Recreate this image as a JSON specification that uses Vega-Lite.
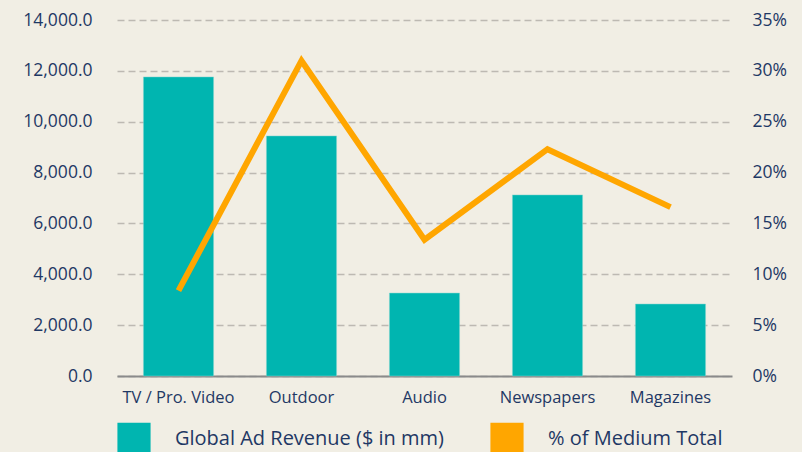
{
  "$schema": "https://vega.github.io/schema/vega-lite/v6.json",
  "width": 615,
  "height": 356,
  "autosize": {"type": "none"},
  "padding": {"left": 117, "top": 20, "right": 70, "bottom": 76},
  "background": "#f1eee4",
  "config": {
    "view": {"stroke": null},
    "font": "Open Sans",
    "axis": {"labelColor": "#1f3864", "labelFont": "Open Sans"}
  },
  "data": {
    "values": [
      {"medium": "TV / Pro. Video", "revenue": 11760, "pct": 0.084},
      {"medium": "Outdoor", "revenue": 9440, "pct": 0.31},
      {"medium": "Audio", "revenue": 3260, "pct": 0.134},
      {"medium": "Newspapers", "revenue": 7120, "pct": 0.223},
      {"medium": "Magazines", "revenue": 2830, "pct": 0.166}
    ]
  },
  "encoding": {
    "x": {
      "field": "medium",
      "type": "nominal",
      "sort": null,
      "scale": {"paddingInner": 0.43, "paddingOuter": 0.215},
      "axis": {
        "title": null,
        "labelAngle": 0,
        "ticks": false,
        "domainColor": "#8a8a8a",
        "domainWidth": 2,
        "labelFontSize": 16.5,
        "labelPadding": 13
      }
    }
  },
  "layer": [
    {
      "mark": {"type": "bar", "color": "#00b5b0", "stroke": "#7fd4cf", "strokeWidth": 0.5},
      "encoding": {
        "y": {
          "field": "revenue",
          "type": "quantitative",
          "scale": {"domain": [0, 14000], "nice": false},
          "axis": {
            "title": null,
            "values": [0, 2000, 4000, 6000, 8000, 10000, 12000, 14000],
            "format": ",.1f",
            "domain": false,
            "ticks": false,
            "labelFontSize": 17.5,
            "labelPadding": 25,
            "grid": true,
            "gridColor": "#bdb9b2",
            "gridDash": [7, 4],
            "gridWidth": 1.5
          }
        },
        "color": {
          "datum": "Global Ad Revenue ($ in mm)",
          "scale": {
            "domain": ["Global Ad Revenue ($ in mm)", "% of Medium Total"],
            "range": ["#00b5b0", "#ffa600"]
          },
          "legend": {
            "title": null,
            "orient": "bottom",
            "direction": "horizontal",
            "offset": 16,
            "symbolType": "square",
            "symbolSize": 1100,
            "symbolStrokeWidth": 0,
            "symbolOpacity": 1,
            "labelFontSize": 20,
            "labelColor": "#1f3864",
            "labelOffset": 24,
            "columnPadding": 45,
            "labelLimit": 400,
            "encode": {
              "symbols": {
                "update": {
                  "shape": {"value": "square"},
                  "fill": {"scale": "color", "field": "value"},
                  "strokeWidth": {"value": 0},
                  "opacity": {"value": 1}
                }
              }
            }
          }
        }
      }
    },
    {
      "mark": {"type": "line", "color": "#ffa600", "strokeWidth": 6},
      "encoding": {
        "y": {
          "field": "pct",
          "type": "quantitative",
          "scale": {"domain": [0, 0.35], "nice": false},
          "axis": {
            "title": null,
            "orient": "right",
            "values": [0, 0.05, 0.1, 0.15, 0.2, 0.25, 0.3, 0.35],
            "format": ".0%",
            "domain": false,
            "ticks": false,
            "grid": false,
            "labelFontSize": 17.5,
            "labelPadding": 20
          }
        },
        "color": {"datum": "% of Medium Total"}
      }
    }
  ],
  "resolve": {"scale": {"y": "independent"}}
}
